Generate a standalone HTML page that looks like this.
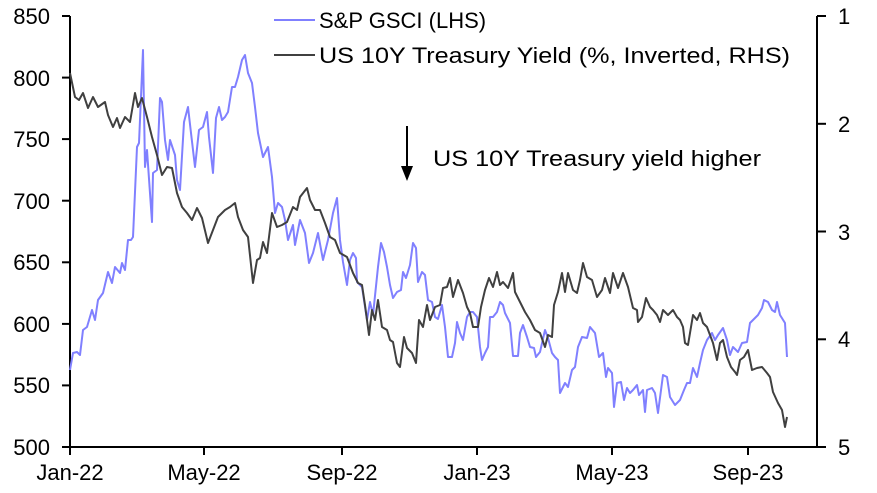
<!DOCTYPE html>
<html><head><meta charset="utf-8"><style>
html,body{margin:0;padding:0;background:#fff;}
svg{display:block;font-family:"Liberation Sans",sans-serif;}
</style></head><body>
<svg width="877" height="493" viewBox="0 0 877 493" xmlns="http://www.w3.org/2000/svg">
<g stroke="#000" stroke-width="2" fill="none">
<line x1="70" y1="16" x2="70" y2="448"/>
<line x1="817" y1="16" x2="817" y2="448"/>
<line x1="69" y1="447" x2="818" y2="447"/>
<line x1="62" y1="16" x2="70" y2="16"/><line x1="62" y1="77.6" x2="70" y2="77.6"/><line x1="62" y1="139.1" x2="70" y2="139.1"/><line x1="62" y1="200.7" x2="70" y2="200.7"/><line x1="62" y1="262.3" x2="70" y2="262.3"/><line x1="62" y1="323.9" x2="70" y2="323.9"/><line x1="62" y1="385.4" x2="70" y2="385.4"/><line x1="62" y1="447" x2="70" y2="447"/>
<line x1="817" y1="16" x2="826" y2="16"/><line x1="817" y1="123.8" x2="826" y2="123.8"/><line x1="817" y1="231.5" x2="826" y2="231.5"/><line x1="817" y1="339.3" x2="826" y2="339.3"/><line x1="817" y1="447" x2="826" y2="447"/>
<line x1="70" y1="447" x2="70" y2="455"/><line x1="204" y1="447" x2="204" y2="455"/><line x1="342" y1="447" x2="342" y2="455"/><line x1="477" y1="447" x2="477" y2="455"/><line x1="612" y1="447" x2="612" y2="455"/><line x1="748" y1="447" x2="748" y2="455"/>
</g>
<g font-size="22" fill="#000" text-anchor="end">
<text x="50" y="24">850</text><text x="50" y="86">800</text><text x="50" y="147">750</text><text x="50" y="209">700</text><text x="50" y="270">650</text><text x="50" y="332">600</text><text x="50" y="393">550</text><text x="50" y="455">500</text>
</g>
<g font-size="22" fill="#000">
<text x="838" y="24">1</text><text x="838" y="132">2</text><text x="838" y="240">3</text><text x="838" y="347">4</text><text x="838" y="455">5</text>
</g>
<g font-size="22" fill="#000" text-anchor="middle">
<text x="70" y="480">Jan-22</text><text x="204" y="480">May-22</text><text x="342" y="480">Sep-22</text><text x="477" y="480">Jan-23</text><text x="612" y="480">May-23</text><text x="748" y="480">Sep-23</text>
</g>
<polyline fill="none" stroke="#8080ff" stroke-width="2" stroke-linejoin="round" points="70,370 73,353 77,352 80,355 83,330 87,327 92,310 95,320 98,300 103,293 108,272 112,283 115,267 120,273 122,263 125,270 128,240 131,240 133,237 137,147 139,143 143,50 145,167 147,150 152,222 153,173 157,170 160,98 162,102 165,140 168,160 170,140 175,155 177,180 180,190 184,122 188,107 191,133 195,167 199,130 203,127 207,112 209,137 213,173 216,118 219,107 222,120 225,117 228,112 232,87 235,87 238,77 242,60 245,55 248,73 252,83 255,107 258,133 263,157 268,147 272,177 275,213 278,203 282,207 285,220 288,240 293,225 295,245 300,220 305,233 309,263 313,253 318,233 323,260 328,240 333,213 337,198 340,240 343,262 347,285 350,260 353,253 356,258 357,282 362,287 367,320 370,302 373,315 378,267 381,243 384,252 387,267 390,285 393,298 397,292 401,290 403,272 406,278 410,265 413,243 416,248 418,282 422,272 425,275 428,300 432,302 435,317 438,319 442,305 445,327 448,357 452,357 455,343 457,322 460,333 463,340 467,317 470,312 473,312 477,317 480,347 482,360 485,353 488,347 490,317 493,317 497,312 500,302 503,305 505,313 510,323 513,356 518,356 520,333 523,325 527,337 530,347 534,348 536,357 540,352 545,330 548,338 552,353 555,357 558,360 560,393 565,383 568,387 572,370 575,367 578,347 582,337 587,338 590,327 595,333 599,357 603,353 606,377 608,368 612,373 614,407 617,383 621,382 624,400 627,388 630,393 633,390 637,385 639,395 643,390 645,412 647,390 652,388 655,393 658,413 663,375 667,377 670,397 675,405 680,400 684,390 687,383 690,383 693,368 697,377 700,363 703,350 707,340 712,333 715,340 718,335 723,328 727,340 730,355 733,347 738,352 742,343 747,342 750,323 753,320 758,315 762,308 764,300 768,302 772,310 775,312 777,302 780,315 785,323 787,357"/>
<polyline fill="none" stroke="#404040" stroke-width="2" stroke-linejoin="round" points="70,73 75,97 79,100 83,93 88,108 93,97 98,107 105,102 108,115 113,127 117,118 120,128 125,117 130,122 135,93 138,107 142,98 147,117 152,137 157,155 162,175 167,167 172,168 177,193 182,207 187,213 192,220 197,208 202,218 208,243 213,230 218,217 225,210 230,207 235,203 238,217 243,230 248,237 253,283 257,260 260,258 263,242 267,253 272,213 277,227 282,225 287,222 293,207 297,210 300,197 307,188 310,200 315,210 320,210 325,223 330,237 335,240 340,253 347,257 353,273 358,283 362,285 365,305 369,335 372,310 375,320 378,300 382,327 387,330 390,340 393,342 397,363 400,367 404,337 407,348 412,353 416,363 419,320 423,327 427,305 430,320 435,307 440,305 443,288 447,287 450,278 453,297 458,280 463,293 467,307 470,313 473,327 478,327 481,307 485,290 489,278 493,287 497,272 500,285 503,282 508,288 513,273 515,292 520,302 525,312 530,320 535,330 540,333 545,347 548,335 552,337 554,305 558,292 562,273 565,292 568,273 573,290 577,293 580,280 583,263 587,277 592,280 597,297 602,290 605,278 610,293 613,273 618,288 623,273 628,287 633,308 637,310 638,322 642,317 646,298 650,307 653,310 657,315 660,322 663,310 668,315 673,310 677,317 680,320 683,327 685,343 688,345 693,315 697,320 700,313 703,323 707,327 710,335 713,343 717,360 720,343 723,340 727,357 731,367 735,372 737,375 740,360 744,357 748,350 752,370 757,368 762,367 767,373 770,377 773,392 778,403 782,410 785,427 787,417"/>
<line x1="274" y1="20" x2="315" y2="20" stroke="#8080ff" stroke-width="2"/>
<line x1="274" y1="55" x2="315" y2="55" stroke="#404040" stroke-width="2"/>
<text x="319" y="28" font-size="22" fill="#000">S&amp;P GSCI (LHS)</text>
<text x="319" y="63" font-size="22" fill="#000" textLength="471" lengthAdjust="spacingAndGlyphs">US 10Y Treasury Yield (%, Inverted, RHS)</text>
<line x1="407" y1="126" x2="407" y2="170" stroke="#000" stroke-width="2"/>
<polygon points="401,166 413,166 407,181" fill="#000"/>
<text x="433" y="166" font-size="22" fill="#000" textLength="328" lengthAdjust="spacingAndGlyphs">US 10Y Treasury yield higher</text>
</svg>
</body></html>
